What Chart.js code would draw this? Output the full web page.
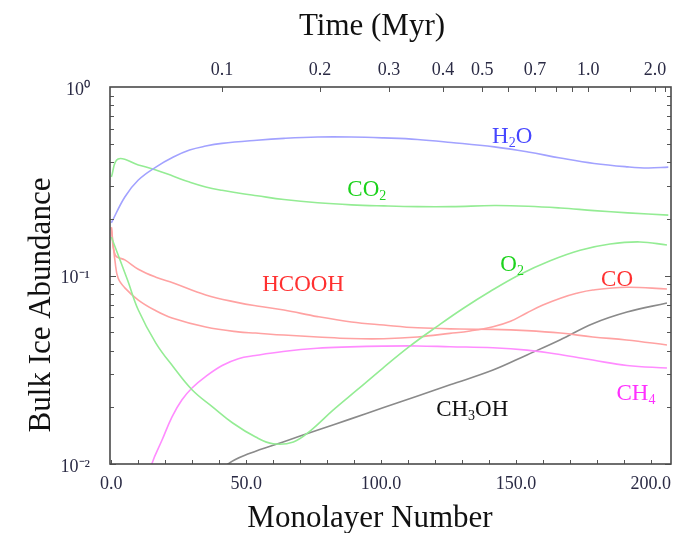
<!DOCTYPE html>
<html>
<head>
<meta charset="utf-8">
<script src="https://cdn.jsdelivr.net/npm/chart.js@4/dist/chart.umd.min.js"></script>
<style>
  html, body { margin: 0; padding: 0; background: #fff; }
  #wrap { width: 681px; height: 533px; position: relative; }
</style>
</head>
<body>
<div id="wrap"><canvas id="iceChart"></canvas></div>
<script>
// monolayer number (x) and bulk ice abundance (y) per species
const h2oX = [0, 5, 10, 16.5, 23, 29, 35, 41, 54, 64, 76.5, 89, 101, 113.5, 126, 142, 154.5, 166.5, 179, 191.5, 199, 206.5];
const h2oY = [0.19, 0.261, 0.321, 0.376, 0.425, 0.463, 0.486, 0.502, 0.522, 0.534, 0.543, 0.543, 0.537, 0.527, 0.508, 0.481, 0.452, 0.42, 0.393, 0.377, 0.372, 0.376];

const co2X = [0, 2.5, 10, 16.5, 23, 29, 35, 41, 47, 54, 64, 76.5, 89, 101, 113.5, 126, 142, 154.5, 166.5, 179, 191.5, 206.5];
const co2Y = [0.333, 0.415, 0.386, 0.363, 0.336, 0.313, 0.295, 0.283, 0.274, 0.265, 0.253, 0.243, 0.237, 0.234, 0.232, 0.232, 0.235, 0.233, 0.228, 0.221, 0.215, 0.209];

const o2X = [0, 6, 10, 16.5, 23, 30, 37.5, 45, 53.5, 60, 67.5, 74, 82.2, 91.1, 100.7, 110.8, 120.8, 130.4, 140.4, 151.5, 162.7, 173.8, 184.9, 196, 206];
const o2Y = [0.16, 0.0946, 0.0656, 0.0438, 0.0327, 0.0247, 0.0201, 0.0165, 0.0139, 0.0128, 0.0131, 0.0151, 0.0193, 0.0247, 0.0323, 0.0423, 0.0537, 0.0668, 0.0822, 0.1012, 0.1197, 0.1361, 0.1469, 0.1507, 0.1452];

const hcoohX = [0, 1.5, 5, 10, 16.5, 23, 35, 47, 54, 64, 76.5, 89, 101, 113.5, 129, 141.5, 154, 166.5, 178.5, 191, 206];
const hcoohY = [0.18, 0.128, 0.121, 0.108, 0.098, 0.0912, 0.0788, 0.0718, 0.0689, 0.0656, 0.0605, 0.0567, 0.0546, 0.0528, 0.052, 0.0518, 0.051, 0.0495, 0.0472, 0.0455, 0.0428];

const coX = [0, 1.4, 2.5, 5, 10, 16, 22.5, 35, 47, 53.5, 64, 76.5, 88.5, 101, 113.5, 125.5, 133, 141.5, 148, 154, 160, 166.5, 172.5, 178.5, 191, 206];
const coY = [0.18, 0.118, 0.097, 0.086, 0.0741, 0.0656, 0.0595, 0.0533, 0.0502, 0.0495, 0.0483, 0.0472, 0.0463, 0.0462, 0.0472, 0.0493, 0.0508, 0.0535, 0.0572, 0.0633, 0.0697, 0.0758, 0.0805, 0.0838, 0.0866, 0.0848];

const ch4X = [13, 15.1, 18.8, 22.5, 26.2, 29.9, 34.8, 41.1, 47.1, 53.4, 63.7, 76.3, 88.5, 100.7, 113.3, 125.6, 141.5, 154.1, 166.3, 178.5, 191.2, 206];
const ch4Y = [0.0075, 0.0101, 0.0134, 0.0178, 0.0219, 0.0253, 0.029, 0.0333, 0.0362, 0.0376, 0.0395, 0.0411, 0.0418, 0.0422, 0.0423, 0.0419, 0.0414, 0.0402, 0.0381, 0.0356, 0.0333, 0.0323];

const ch3ohX = [40, 43.3, 51.4, 63.7, 76.3, 88.5, 100.7, 113.3, 125.6, 141.5, 154.1, 166.3, 178.5, 191.2, 206];
const ch3ohY = [0.0085, 0.01, 0.0114, 0.0131, 0.0151, 0.0173, 0.0199, 0.0229, 0.0263, 0.0315, 0.0379, 0.0455, 0.0555, 0.064, 0.0715];

// bottom axis
const xTickValues = [0, 50, 100, 150, 200];
const xMinorStep = 10;

// top axis: time in Myr and the monolayer number it falls on
const timeMyr = [0.1, 0.2, 0.3, 0.4, 0.5, 0.6, 0.7, 0.8, 0.9, 1.0, 1.5, 2.0, 2.5];
const timeAtMonolayer = [41.0, 77.4, 102.9, 123.0, 137.5, 147.1, 157.1, 164.9, 170.8, 176.8, 192.3, 201.6, 205.3];
const timeLabels = ['0.1', '0.2', '0.3', '0.4', '0.5', '0.7', '1.0', '2.0'];

// left axis decades
const yTickValues = [0.01, 0.1, 1];
const yTickLabels = ['10\u207B\u00B2', '10\u207B\u00B9', '10\u2070'];

const SERIF = '"Liberation Serif", "Times New Roman", serif';

const species = [
  { name: 'H2O',   xs: h2oX,   ys: h2oY,   line: '#a2a2ff', text: '#4646ff', at: [148.6, 0.556] },
  { name: 'CO2',   xs: co2X,   ys: co2Y,   line: '#94ec94', text: '#1cd21c', at: [94.7, 0.291] },
  { name: 'O2',    xs: o2X,    ys: o2Y,    line: '#94ec94', text: '#1cd21c', at: [148.6, 0.1165] },
  { name: 'HCOOH', xs: hcoohX, ys: hcoohY, line: '#ffa2a2', text: '#ff3030', at: [71.1, 0.0912] },
  { name: 'CO',    xs: coX,    ys: coY,    line: '#ffa2a2', text: '#ff3030', at: [187.5, 0.097] },
  { name: 'CH4',   xs: ch4X,   ys: ch4Y,   line: '#ff8cff', text: '#ff30ff', at: [194.5, 0.0241] },
  { name: 'CH3OH', xs: ch3ohX, ys: ch3ohY, line: '#8a8a8a', text: '#111111', at: [133.8, 0.0198] }
];

// chemical formula with subscript digits, centred on (x, y)
function drawFormula(ctx, text, x, y, size) {
  const parts = text.split(/(\d)/).filter(Boolean);
  const fontFor = p => (/\d/.test(p) ? Math.round(size * 0.62) : size) + 'px ' + SERIF;
  let w = 0;
  parts.forEach(p => { ctx.font = fontFor(p); w += ctx.measureText(p).width; });
  let cx = x - w / 2;
  const base = y + size * 0.33;
  parts.forEach(p => {
    const sub = /\d/.test(p);
    ctx.font = fontFor(p);
    ctx.fillText(p, cx, sub ? base + size * 0.2 : base);
    cx += ctx.measureText(p).width;
  });
}

const framePlugin = {
  id: 'frame',
  afterDatasetsDraw(chart) {
    const { ctx, chartArea: a, scales } = chart;
    ctx.save();
    ctx.strokeStyle = '#555';
    ctx.lineWidth = 1;
    ctx.beginPath();
    for (let v = 0; v <= 200; v += xMinorStep) {
      const x = Math.round(scales.x.getPixelForValue(v)) + 0.5;
      ctx.moveTo(x, a.bottom); ctx.lineTo(x, a.bottom - 4);
    }
    scales.time.ticks.forEach(t => {
      const x = Math.round(scales.time.getPixelForValue(t.value)) + 0.5;
      ctx.moveTo(x, a.top); ctx.lineTo(x, a.top + 5);
    });
    for (let d = 0.01; d < 0.99; d *= 10) {
      for (let k = 1; k <= 9; k++) {
        const y = Math.round(scales.y.getPixelForValue(d * k)) + 0.5;
        const len = k === 1 ? 6 : 4;
        ctx.moveTo(a.left, y); ctx.lineTo(a.left + len, y);
        ctx.moveTo(a.right, y); ctx.lineTo(a.right - len, y);
      }
    }
    ctx.stroke();
    ctx.lineWidth = 1.6;
    ctx.strokeStyle = '#4a4a4a';
    ctx.strokeRect(a.left, a.top, a.width, a.height);
    ctx.restore();
  },
  afterDraw(chart) {
    const { ctx, scales } = chart;
    ctx.save();
    ctx.textAlign = 'left';
    ctx.textBaseline = 'alphabetic';
    species.forEach(s => {
      ctx.fillStyle = s.text;
      drawFormula(ctx, s.name, scales.x.getPixelForValue(s.at[0]), scales.y.getPixelForValue(s.at[1]), 23);
    });
    // axis titles
    ctx.fillStyle = '#111';
    ctx.textAlign = 'center';
    ctx.font = '31px ' + SERIF;
    ctx.fillText('Time (Myr)', 372, 35);
    ctx.fillText('Monolayer Number', 370, 527);
    ctx.translate(50, 305);
    ctx.rotate(-Math.PI / 2);
    ctx.fillText('Bulk Ice Abundance', 0, 0);
    ctx.restore();
  }
};

const tickFont = { family: SERIF, size: 18 };

new Chart(document.getElementById('iceChart'), {
  type: 'line',
  data: {
    datasets: species.map(s => ({
      label: s.name,
      data: s.xs.map((x, i) => ({ x: x, y: s.ys[i] })),
      borderColor: s.line,
      borderWidth: 1.6,
      pointRadius: 0,
      fill: false,
      tension: 0.4
    }))
  },
  options: {
    responsive: true,
    maintainAspectRatio: false,
    animation: false,
    layout: { padding: { right: 10 } },
    plugins: { legend: { display: false }, tooltip: { enabled: false } },
    scales: {
      x: {
        type: 'linear',
        position: 'bottom',
        min: -0.5,
        max: 207.5,
        grid: { display: false, drawTicks: false },
        border: { display: false },
        afterBuildTicks: s => { s.ticks = xTickValues.map(v => ({ value: v })); },
        afterFit: s => { s.height = 69; },
        ticks: {
          autoSkip: false,
          maxRotation: 0,
          padding: 9,
          color: '#2a2a44',
          font: tickFont,
          callback: v => v.toFixed(1)
        }
      },
      time: {
        type: 'linear',
        position: 'top',
        min: -0.5,
        max: 207.5,
        grid: { display: false, drawTicks: false },
        border: { display: false },
        afterBuildTicks: s => { s.ticks = timeAtMonolayer.map(v => ({ value: v })); },
        afterFit: s => { s.height = 87; },
        ticks: {
          autoSkip: false,
          maxRotation: 0,
          padding: 6,
          color: '#2a2a44',
          font: tickFont,
          callback: (v, i) => {
            const t = timeMyr[i].toFixed(1);
            return timeLabels.includes(t) ? t : '';
          }
        }
      },
      y: {
        type: 'logarithmic',
        position: 'left',
        min: 0.01,
        max: 1,
        grid: { display: false, drawTicks: false },
        border: { display: false },
        afterBuildTicks: s => { s.ticks = yTickValues.map(v => ({ value: v })); },
        afterFit: s => { s.width = 110; },
        ticks: {
          autoSkip: false,
          padding: 20,
          labelOffset: 3,
          color: '#2a2a44',
          font: tickFont,
          callback: (v, i) => yTickLabels[i]
        }
      }
    }
  },
  plugins: [framePlugin]
});
</script>
</body>
</html>
